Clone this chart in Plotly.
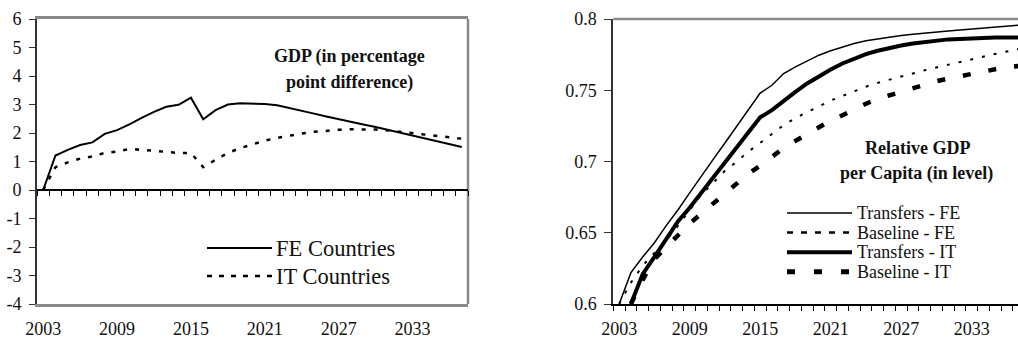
import plotly.graph_objects as go

# ---------------- data ----------------
years = list(range(2003, 2038))

gdp_fe = [0.00, 1.21, 1.41, 1.58, 1.67, 1.97, 2.10, 2.30, 2.53, 2.74, 2.92, 2.99, 3.24, 2.48,
          2.80, 3.00, 3.04, 3.04, 3.02, 2.97, 2.88, 2.78, 2.68, 2.58, 2.48, 2.39, 2.30, 2.21,
          2.11, 2.01, 1.91, 1.81, 1.71, 1.61, 1.51]
gdp_it = [0.00, 0.80, 0.97, 1.10, 1.18, 1.30, 1.35, 1.44, 1.41, 1.38, 1.35, 1.30, 1.30, 0.80,
          1.06, 1.30, 1.47, 1.61, 1.73, 1.83, 1.91, 1.98, 2.04, 2.08, 2.11, 2.13, 2.13, 2.12,
          2.09, 2.04, 1.99, 1.94, 1.89, 1.85, 1.80]

transfers_fe = [0.600, 0.622, 0.633, 0.643, 0.655, 0.666, 0.678, 0.690, 0.7015, 0.713, 0.7245,
                0.736, 0.748, 0.7535, 0.7617, 0.7664, 0.7706, 0.7746, 0.7777, 0.7805, 0.7828,
                0.7847, 0.786, 0.7875, 0.7884, 0.7893, 0.7902, 0.791, 0.7916, 0.7923, 0.793,
                0.7937, 0.7945, 0.795, 0.7957]
baseline_fe = [0.600, 0.615, 0.627, 0.6355, 0.6445, 0.655, 0.666, 0.6768, 0.685, 0.6935, 0.6998,
               0.707, 0.713, 0.719, 0.7255, 0.7305, 0.7345, 0.739, 0.7428, 0.746, 0.7495,
               0.7525, 0.7552, 0.7575, 0.7597, 0.762, 0.764, 0.766, 0.768, 0.770, 0.772,
               0.7737, 0.7755, 0.7772, 0.779]
years_it = list(range(2004, 2038))
transfers_it = [0.600, 0.621, 0.633, 0.645, 0.658, 0.6675, 0.678, 0.689, 0.6995, 0.710, 0.7205,
                0.731, 0.736, 0.7426, 0.7489, 0.7548, 0.760, 0.7646, 0.7688, 0.7723, 0.7753,
                0.7777, 0.7798, 0.7814, 0.7828, 0.784, 0.785, 0.7857, 0.786, 0.7865, 0.7867,
                0.787, 0.787, 0.787]
baseline_it = [0.600, 0.617, 0.6315, 0.640, 0.649, 0.6565, 0.6635, 0.6705, 0.678, 0.6845, 0.6915,
               0.697, 0.703, 0.7095, 0.7145, 0.7195, 0.724, 0.7285, 0.7325, 0.737, 0.7405,
               0.744, 0.7465, 0.7492, 0.7517, 0.7543, 0.7563, 0.7582, 0.760, 0.7618, 0.7633,
               0.7647, 0.766, 0.767]

label_years = [2003, 2009, 2015, 2021, 2027, 2033]
boundaries = [y + 0.5 for y in range(2002, 2038)]
left_yticks = [-4, -3, -2, -1, 0, 1, 2, 3, 4, 5, 6]
left_ytext = [str(v) for v in left_yticks]          # plain hyphen minus, as in the reference
right_yticks = [0.6, 0.65, 0.7, 0.75, 0.8]
right_ytext = ["0.6", "0.65", "0.7", "0.75", "0.8"]

# ---------------- layout helpers ----------------
W, H = 1018, 340
FONT = "Liberation Serif, Times New Roman, serif"
def fx(p):
    return p / W
def fy(p):
    return 1 - p / H

ydom = [fy(304), fy(19)]
ldom = [fx(37), fx(468)]
rdom = [fx(613.3), 1.0]
left_range = [-4, 6]
zero_pos = ydom[0] + (0 - left_range[0]) / (left_range[1] - left_range[0]) * (ydom[1] - ydom[0])
right_xrange = [2002.5, 2002.5 + (W - 613.3) / 11.75]

fig = go.Figure()
fig.add_trace(go.Scatter(x=years, y=gdp_fe, mode="lines", name="FE Countries",
                         line=dict(color="black", width=2), xaxis="x", yaxis="y", showlegend=False))
fig.add_trace(go.Scatter(x=years, y=gdp_it, mode="lines", name="IT Countries",
                         line=dict(color="black", width=2.5, dash="4px,8px"), xaxis="x", yaxis="y",
                         showlegend=False))
fig.add_trace(go.Scatter(x=years, y=gdp_fe, mode="lines", line=dict(width=0), opacity=0,
                         hoverinfo="skip", xaxis="x3", yaxis="y", showlegend=False))

fig.add_trace(go.Scatter(x=years, y=transfers_fe, mode="lines", name="Transfers - FE",
                         line=dict(color="black", width=1.5), xaxis="x2", yaxis="y2", showlegend=False))
fig.add_trace(go.Scatter(x=years, y=baseline_fe, mode="lines", name="Baseline - FE",
                         line=dict(color="black", width=2, dash="3px,9px"), xaxis="x2", yaxis="y2",
                         showlegend=False))
fig.add_trace(go.Scatter(x=years_it, y=transfers_it, mode="lines", name="Transfers - IT",
                         line=dict(color="black", width=4), xaxis="x2", yaxis="y2", showlegend=False))
fig.add_trace(go.Scatter(x=years_it, y=baseline_it, mode="lines", name="Baseline - IT",
                         line=dict(color="black", width=4.5, dash="8px,18px"), xaxis="x2", yaxis="y2",
                         showlegend=False))
fig.add_trace(go.Scatter(x=years, y=transfers_fe, mode="lines", line=dict(width=0), opacity=0,
                         hoverinfo="skip", xaxis="x4", yaxis="y2", showlegend=False))

tickfont = dict(family=FONT, size=18, color="#111")
frame_gray = "#8a8a8a"

fig.update_layout(
    width=W, height=H, margin=dict(l=0, r=0, t=0, b=0, pad=0, autoexpand=False),
    paper_bgcolor="white", plot_bgcolor="white",
    xaxis=dict(domain=ldom, range=[2002.5, 2037.5], anchor="y", tickvals=label_years,
               ticks="", showline=True, linecolor=frame_gray, linewidth=2.5, mirror=True,
               showgrid=False, zeroline=False, tickfont=tickfont, ticklabelstandoff=7,
               automargin=False),
    xaxis3=dict(overlaying="x", anchor="free", position=zero_pos, range=[2002.5, 2037.5],
                tickvals=boundaries, ticks="outside", ticklen=5, tickwidth=1, tickcolor="black",
                showticklabels=False, showline=True, linecolor="black", linewidth=1.5,
                showgrid=False, zeroline=False, automargin=False),
    yaxis=dict(domain=ydom, range=left_range, tickvals=left_yticks, ticktext=left_ytext,
               anchor="x", ticks="outside", ticklen=6,
               tickcolor="#333", showline=True, linecolor="#333", linewidth=2,
               showgrid=False, zeroline=False, tickfont=tickfont, ticklabelstandoff=4,
               automargin=False),
    xaxis2=dict(domain=rdom, range=right_xrange, anchor="y2",
                tickvals=label_years, ticks="", showline=True, linecolor="black", linewidth=2,
                showgrid=False, zeroline=False, tickfont=tickfont, ticklabelstandoff=7,
                automargin=False),
    xaxis4=dict(overlaying="x2", anchor="y2", range=right_xrange,
                tickvals=boundaries, ticks="outside", ticklen=6, tickwidth=1, tickcolor="black",
                showticklabels=False, showline=False, showgrid=False, zeroline=False,
                automargin=False),
    yaxis2=dict(domain=ydom, range=[0.6, 0.8], anchor="x2",
                tickvals=right_yticks, ticktext=right_ytext,
                ticks="outside", ticklen=7, tickcolor="#333", showline=True, linecolor="#333",
                linewidth=2, showgrid=False, zeroline=False, tickfont=tickfont,
                ticklabelstandoff=4, automargin=False),
)

shapes = [
    dict(type="line", xref="x domain", yref="y domain", x0=1, x1=1, y0=0, y1=1,
         line=dict(color=frame_gray, width=2.5), layer="below"),
    dict(type="line", xref="x2 domain", yref="y2 domain", x0=0, x1=1, y0=1, y1=1,
         line=dict(color=frame_gray, width=2.5), layer="below"),
]

left_leg = [("FE Countries", dict(color="black", width=2)),
            ("IT Countries", dict(color="black", width=2.5, dash="5px,7px"))]
for k, (txt, ln) in enumerate(left_leg):
    yk = 248 + 28 * k
    shapes.append(dict(type="line", xref="paper", yref="paper", x0=fx(207), x1=fx(272),
                       y0=fy(yk), y1=fy(yk), line=ln))
right_leg = [("Transfers - FE", dict(color="black", width=1.5)),
             ("Baseline - FE", dict(color="black", width=2.5, dash="6px,8px")),
             ("Transfers - IT", dict(color="black", width=4)),
             ("Baseline - IT", dict(color="black", width=5, dash="8px,19px"))]
for k, (txt, ln) in enumerate(right_leg):
    yk = 213 + 19.6 * k
    shapes.append(dict(type="line", xref="paper", yref="paper", x0=fx(787), x1=fx(852),
                       y0=fy(yk), y1=fy(yk), line=ln))
fig.update_layout(shapes=shapes)

ann = []
for k, (txt, _) in enumerate(left_leg):
    ann.append(dict(text=txt, xref="paper", yref="paper", x=fx(274), y=fy(248 + 28 * k),
                    xanchor="left", yanchor="middle", showarrow=False,
                    font=dict(family=FONT, size=22.5, color="#111")))
for k, (txt, _) in enumerate(right_leg):
    ann.append(dict(text=txt, xref="paper", yref="paper", x=fx(855), y=fy(213 + 19.6 * k),
                    xanchor="left", yanchor="middle", showarrow=False,
                    font=dict(family=FONT, size=18, color="#111")))
titles = [("GDP (in percentage", 349, 57), ("point difference)", 349, 82),
          ("Relative GDP", 917, 148), ("per Capita (in level)", 916, 173)]
for txt, xc, yc in titles:
    ann.append(dict(text="<b>" + txt + "</b>", xref="paper", yref="paper", x=fx(xc), y=fy(yc),
                    xanchor="center", yanchor="middle", showarrow=False,
                    font=dict(family=FONT, size=18, color="#111")))
fig.update_layout(annotations=ann)

fig.write_html("out.html", config={"displayModeBar": False},
               post_script="document.body.style.margin='0';")
